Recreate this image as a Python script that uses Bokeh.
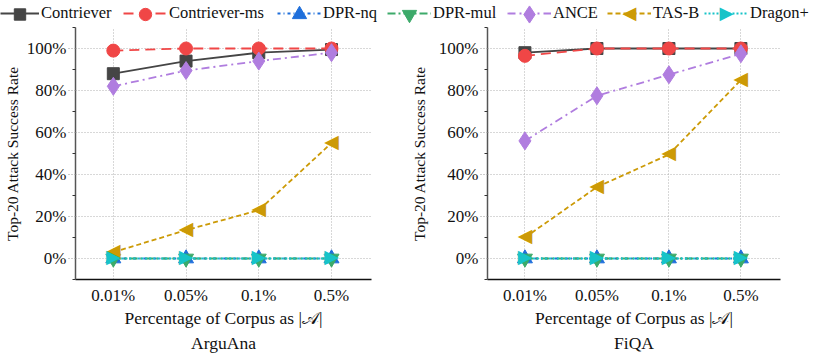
import numpy as np
from bokeh.plotting import figure
from bokeh.layouts import row, column
from bokeh.models import (Range1d, FixedTicker, PrintfTickFormatter, Legend, LegendItem, Title)
from bokeh.core.properties import value
from bokeh.embed import file_html
from bokeh.resources import INLINE

# ---------------- data ----------------
x_labels = ["0.01%", "0.05%", "0.1%", "0.5%"]
series_names = ["Contriever", "Contriever-ms", "DPR-nq", "DPR-mul", "ANCE", "TAS-B", "Dragon+"]

arguana_contriever = [88, 94, 98, 99.5]
arguana_contriever_ms = [99, 100, 100, 100]
arguana_dpr_nq = [0, 0, 0, 0]
arguana_dpr_mul = [0, 0, 0, 0]
arguana_ance = [82, 89.5, 94, 98]
arguana_tasb = [3, 13.5, 23, 55]
arguana_dragon = [0, 0, 0, 0]

fiqa_contriever = [98, 100, 100, 100]
fiqa_contriever_ms = [96.5, 100, 100, 100]
fiqa_dpr_nq = [0, 0, 0, 0]
fiqa_dpr_mul = [0, 0, 0, 0]
fiqa_ance = [56, 77.5, 87.5, 97.5]
fiqa_tasb = [10, 34, 49.5, 85]
fiqa_dragon = [0, 0, 0, 0]

titles = ["ArguAna", "FiQA"]
y_ticks = [0, 20, 40, 60, 80, 100]

# ---------------- styles ----------------
FONT = "Liberation Serif"
MARK_FONT = "DejaVu Sans"
styles = [
    dict(color="#454545", dash="solid", marker="square", size=12),
    dict(color="#f04646", dash="10 6", marker="circle", size=13),
    dict(color="#1f6fdb", dash="3 3 1 3", marker="triangle", size=15),
    dict(color="#3daa6a", dash="8 3 2 3", marker="inverted_triangle", size=15),
    dict(color="#b07ddf", dash="8 4 2 4", marker="diamond", size=18),
    dict(color="#cc9a06", dash="5 3", marker="text", char="\u25C0", size=19),
    dict(color="#17c3c8", dash="2 2", marker="text", char="\u25B6", size=19),
]

xs = list(range(len(x_labels)))


def add_marks(p, x, y, st, level="glyph", scale=1.0):
    if st["marker"] == "text":
        fs = st["size"] * scale
        return p.text(x, y, text=[st["char"]] * len(x), text_align="center",
                      text_baseline="middle", text_font=value(MARK_FONT), y_offset=-2.5,
                      text_font_size=f'{fs:.1f}px', text_color=st["color"], level=level)
    return p.scatter(x, y, marker=st["marker"], size=st["size"] * scale,
                     fill_color=st["color"], line_color=st["color"], level=level)


def make_plot(title, data, border_left, border_right, ylab_standoff):
    p = figure(width=border_left + 305 + border_right, height=327,
               x_range=Range1d(-0.52, 3.55), y_range=Range1d(-10, 110),
               toolbar_location=None, output_backend="svg",
               min_border_left=border_left, min_border_right=border_right,
               min_border_top=0, min_border_bottom=75)
    p.outline_line_color = None
    for ys, st in zip(data, styles):
        p.line(xs, ys, line_color=st["color"], line_width=1.8, line_dash=st["dash"])
        add_marks(p, xs, ys, st)
    # axes
    p.xaxis.ticker = FixedTicker(ticks=xs)
    p.xaxis.major_label_overrides = {i: l for i, l in enumerate(x_labels)}
    p.xaxis.major_tick_out = 0
    p.xaxis.major_tick_in = 0
    p.xaxis.minor_tick_line_color = None
    p.xaxis.axis_line_color = "#111111"
    p.xaxis.axis_line_width = 1.5
    p.xaxis.major_label_standoff = 6
    p.xaxis.axis_label = "Percentage of Corpus as |𝒜|"
    p.xaxis.axis_label_standoff = 0

    p.yaxis.ticker = FixedTicker(ticks=y_ticks, minor_ticks=[-10, 10, 30, 50, 70, 90, 110])
    p.yaxis.formatter = PrintfTickFormatter(format="%d%%")
    p.yaxis.major_tick_out = 7
    p.yaxis.major_tick_in = 0
    p.yaxis.major_tick_line_dash = "1 2"
    p.yaxis.major_tick_line_color = "#999999"
    p.yaxis.minor_tick_out = 3
    p.yaxis.minor_tick_in = 0
    p.yaxis.minor_tick_line_color = "#333333"
    p.yaxis.axis_line_color = "#555555"
    p.yaxis.axis_line_width = 1.5
    p.yaxis.major_label_standoff = 2
    p.yaxis.axis_label = "Top-20 Attack Success Rate"
    p.yaxis.axis_label_standoff = ylab_standoff

    for ax in (p.xaxis, p.yaxis):
        ax.major_label_text_font = FONT
        ax.major_label_text_font_size = "17px"
        ax.major_label_text_color = "#111111"
        ax.axis_label_text_font = FONT
        ax.axis_label_text_font_style = "normal"
        ax.axis_label_text_color = "#111111"
    p.xaxis.axis_label_text_font_size = "17.5px"
    p.yaxis.axis_label_text_font_size = "15.5px"

    p.xgrid.ticker = FixedTicker(ticks=xs)
    p.ygrid.ticker = FixedTicker(ticks=y_ticks)
    for g in (p.xgrid, p.ygrid):
        g.grid_line_color = "#b0b0b0"
        g.grid_line_dash = "1 2"
        g.grid_line_width = 1

    t = Title(text=title, align="center", text_font=FONT, text_font_size="17.5px",
              text_font_style="normal", text_color="#111111", standoff=0)
    p.add_layout(t, "below")
    return p


p1 = make_plot(titles[0], [arguana_contriever, arguana_contriever_ms, arguana_dpr_nq,
                           arguana_dpr_mul, arguana_ance, arguana_tasb, arguana_dragon], 66, 36, 3)
p2 = make_plot(titles[1], [fiqa_contriever, fiqa_contriever_ms, fiqa_dpr_nq,
                           fiqa_dpr_mul, fiqa_ance, fiqa_tasb, fiqa_dragon], 68, 34, 8)

# ---------------- legend figure ----------------
LEG_W, LEG_H = 814, 27
pl = figure(width=LEG_W, height=LEG_H, x_range=Range1d(0, LEG_W), y_range=Range1d(0, LEG_H),
            x_axis_type=None, y_axis_type=None, toolbar_location=None,
            output_backend="svg", min_border=0)
pl.outline_line_color = None
leg_x = [0, 123, 277, 387, 507, 607, 704]      # legend item left edges (px)
leg_gw = [39, 44, 44, 44, 44, 44, 44]           # legend glyph widths (px)
leg_y = 4
for name, st, lx, gw in zip(series_names, styles, leg_x, leg_gw):
    lr = pl.line([-50, -40], [-50, -40], line_color=st["color"], line_width=1.8,
                 line_dash=st["dash"])
    # legend swatch marker drawn on top of the legend line, same size as in the plots
    add_marks(pl, [lx + gw / 2], [leg_y + 9], st, level="overlay", scale=0.95)
    leg = Legend(items=[LegendItem(label=name, renderers=[lr])], orientation="horizontal",
                 location=(lx, leg_y), label_text_font=FONT, label_text_font_size="16.5px",
                 label_text_color="#111111", glyph_width=gw, glyph_height=18,
                 label_standoff=2, spacing=0, padding=0, margin=0, border_line_color=None,
                 background_fill_alpha=0, label_height=18)
    pl.add_layout(leg, "center")

layout = column(pl, row(p1, p2))
open("out.html", "w").write(file_html(layout, INLINE))
